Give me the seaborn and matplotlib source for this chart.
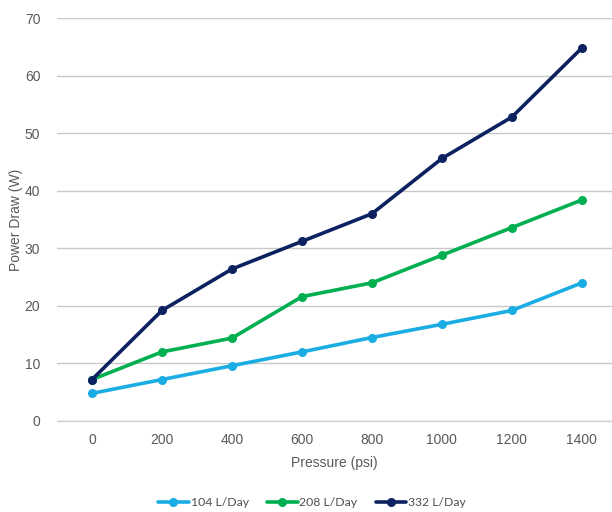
import matplotlib
matplotlib.use("Agg")
import matplotlib.pyplot as plt
import seaborn as sns
import pandas as pd

pressure = ["0", "200", "400", "600", "800", "1000", "1200", "1400"]
flow_104 = [4.8, 7.2, 9.6, 12.0, 14.5, 16.8, 19.2, 24.0]
flow_208 = [7.2, 12.0, 14.4, 21.6, 24.0, 28.8, 33.6, 38.4]
flow_332 = [7.2, 19.2, 26.4, 31.2, 36.0, 45.6, 52.8, 64.8]
series_names = ["104 L/Day", "208 L/Day", "332 L/Day"]
colors = ["#1AADE4", "#00B050", "#0B2160"]

rows = []
for name, vals in zip(series_names, [flow_104, flow_208, flow_332]):
    for p, v in zip(pressure, vals):
        rows.append({"Pressure": p, "Power": v, "Series": name})
df = pd.DataFrame(rows)

sns.set_theme(style="white")
plt.rcParams["font.family"] = ["Liberation Sans", "DejaVu Sans"]

fig = plt.figure(figsize=(6.12, 5.12), dpi=100)
ax = fig.add_axes([57/612, 1-421/512, 1-57/612, (421-18)/512])

sns.lineplot(data=df, x="Pressure", y="Power", hue="Series", hue_order=series_names,
             palette=colors, marker="o", markersize=6.5, markeredgewidth=0,
             linewidth=2.6, sort=False, ax=ax, legend=False)

ax.set_yticks(range(0, 71, 10))
ax.set_xticks(range(len(pressure)))
ax.set_xticklabels(pressure)
ax.set_xticks([i + 0.5 for i in range(len(pressure) - 1)], minor=True)
ax.set_ylim(0, 70)
ax.set_xlim(-0.5, 7.43)
ax.yaxis.grid(True, color="#C8C8C8", linewidth=1)
ax.set_axisbelow(True)
for s in ["top", "right", "left"]:
    ax.spines[s].set_visible(False)
ax.spines["bottom"].set_color("#D0D0D0")
ax.spines["bottom"].set_linewidth(1)
ax.tick_params(axis="x", which="major", length=0, labelsize=10, labelcolor="#595959", pad=9)
ax.tick_params(axis="y", length=0, labelsize=10, labelcolor="#595959", pad=12)
ax.tick_params(axis="x", which="minor", length=5, color="#D0D0D0", width=1, direction="out")

ax.set_xlabel("Pressure (psi)", fontsize=10, color="#595959", labelpad=6)
ax.set_ylabel("Power Draw (W)", fontsize=10, color="#595959", labelpad=1)

from matplotlib.lines import Line2D
handles = [Line2D([0], [0], color=c, linewidth=2.6, marker="o", markersize=6.5,
                  markeredgewidth=0) for c in colors]
fig.legend(handles, series_names, loc="center", bbox_to_anchor=(0.51, 1-503/512),
           ncol=3, frameon=False, handlelength=2.5, handletextpad=0.15,
           columnspacing=1.5, labelcolor="#505050",
           prop={"family": ["Lato", "DejaVu Sans"], "size": 8.8})

fig.savefig("out.png", dpi=100)
